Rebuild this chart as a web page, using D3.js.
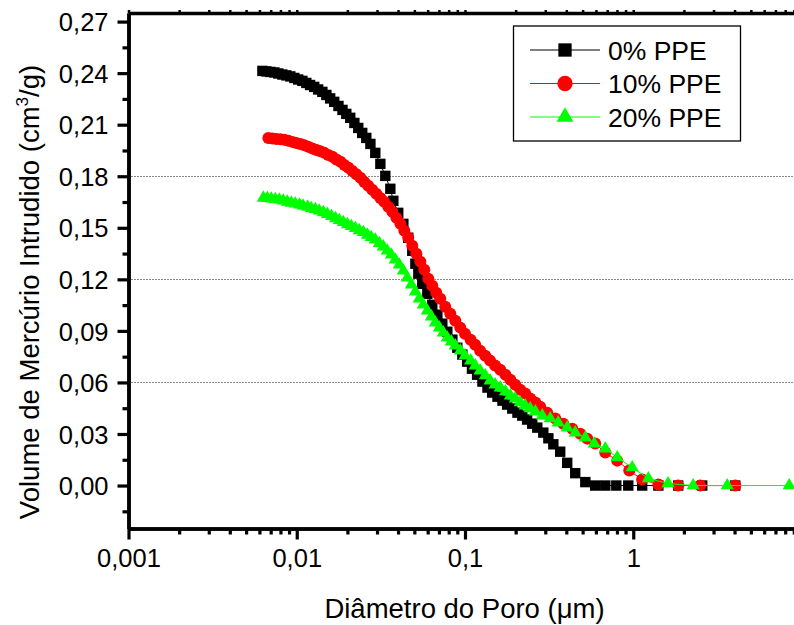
<!DOCTYPE html>
<html>
<head>
<meta charset="utf-8">
<script src="https://cdn.jsdelivr.net/npm/d3@7"></script>
<style>
    body { margin: 0; background: #fff; }
    svg { display: block; font-family: "Liberation Sans", Arial, sans-serif; }
</style>
</head>
<body>
<div id="chart"></div>
<script>
var seriesNames = ["0% PPE", "10% PPE", "20% PPE"];

// 0% PPE
var diam0 = [0.00625, 0.0066, 0.00697, 0.00736, 0.00777, 0.00821, 0.00867, 0.00916, 0.00968, 0.0102,
    0.0108, 0.0114, 0.0120, 0.0127, 0.0134, 0.0142, 0.0150, 0.0158, 0.0167, 0.0177,
    0.0187, 0.0197, 0.0208, 0.0220, 0.0232, 0.0245, 0.0259, 0.0274, 0.0293, 0.0314,
    0.0336, 0.0360, 0.0375, 0.0401, 0.0430, 0.0460, 0.0486, 0.0507, 0.0528, 0.0557,
    0.0597, 0.0639, 0.0685, 0.0733, 0.0785, 0.0841, 0.0900, 0.0964, 0.103, 0.110,
    0.118, 0.127, 0.136, 0.145, 0.156, 0.167, 0.178, 0.191, 0.205, 0.219,
    0.234, 0.251, 0.269, 0.292, 0.313, 0.335, 0.368, 0.405, 0.452, 0.519,
    0.594, 0.682, 0.793, 0.934, 1.13, 1.41, 1.85, 2.57, 4.04];
var vol0 = [0.2413, 0.2410, 0.2407, 0.2404, 0.2398, 0.2392, 0.2387, 0.2381, 0.2372, 0.2363,
    0.2355, 0.2343, 0.2331, 0.2320, 0.2305, 0.2291, 0.2273, 0.2253, 0.2233, 0.2209,
    0.2186, 0.2163, 0.2140, 0.2110, 0.2081, 0.2052, 0.2023, 0.1988, 0.1936, 0.1872,
    0.1802, 0.1727, 0.1657, 0.1587, 0.1523, 0.1442, 0.1366, 0.1291, 0.1233, 0.1174,
    0.1116, 0.1052, 0.0994, 0.0942, 0.0895, 0.0849, 0.0802, 0.0762, 0.0721, 0.0680,
    0.0645, 0.0605, 0.0570, 0.0541, 0.0517, 0.0494, 0.0471, 0.0448, 0.0424, 0.0407,
    0.0384, 0.0360, 0.0337, 0.0308, 0.0275, 0.0240, 0.0197, 0.0132, 0.0072, 0.0020,
    0, 0, 0, 0, 0, 0, 0, 0, 0];

// 10% PPE
var diam10 = [0.00678, 0.00716, 0.00756, 0.00799, 0.00844, 0.00891, 0.00942, 0.00994, 0.0105, 0.0111,
    0.0117, 0.0124, 0.0131, 0.0138, 0.0146, 0.0154, 0.0163, 0.0172, 0.0182, 0.0192,
    0.0203, 0.0214, 0.0226, 0.0239, 0.0252, 0.0266, 0.0281, 0.0297, 0.0314, 0.0331,
    0.0350, 0.0370, 0.0391, 0.0413, 0.0436, 0.0460, 0.0486, 0.0514, 0.0543, 0.0573,
    0.0605, 0.0639, 0.0675, 0.0713, 0.0763, 0.0818, 0.0876, 0.0938, 0.100, 0.108,
    0.115, 0.123, 0.132, 0.141, 0.151, 0.162, 0.174, 0.186, 0.199, 0.213,
    0.228, 0.244, 0.262, 0.280, 0.308, 0.344, 0.384, 0.434, 0.484, 0.533,
    0.594, 0.682, 0.803, 0.947, 1.13, 1.41, 1.85, 2.50, 4.04];
var vol10 = [0.2023, 0.2020, 0.2017, 0.2015, 0.2012, 0.2006, 0.2000, 0.1994, 0.1988, 0.1980,
    0.1971, 0.1962, 0.1953, 0.1945, 0.1936, 0.1924, 0.1913, 0.1898, 0.1884, 0.1866,
    0.1849, 0.1831, 0.1811, 0.1791, 0.1767, 0.1744, 0.1721, 0.1698, 0.1674, 0.1651,
    0.1622, 0.1593, 0.1558, 0.1523, 0.1483, 0.1442, 0.1395, 0.1349, 0.1302, 0.1256,
    0.1203, 0.1163, 0.1122, 0.1087, 0.1041, 0.1000, 0.0959, 0.0919, 0.0884, 0.0849,
    0.0820, 0.0785, 0.0756, 0.0727, 0.0698, 0.0674, 0.0645, 0.0616, 0.0587, 0.0558,
    0.0535, 0.0506, 0.0483, 0.0459, 0.0424, 0.0390, 0.0360, 0.0331, 0.0302, 0.0273,
    0.0244, 0.0192, 0.0145, 0.0087, 0.0035, 0.0006, 0, 0, 0];

// 20% PPE
var diam20 = [0.00633, 0.00669, 0.00706, 0.00746, 0.00788, 0.00832, 0.00879, 0.00929, 0.00981, 0.0104,
    0.0109, 0.0116, 0.0122, 0.0129, 0.0136, 0.0144, 0.0152, 0.0161, 0.0170, 0.0179,
    0.0189, 0.0200, 0.0211, 0.0223, 0.0235, 0.0249, 0.0263, 0.0277, 0.0293, 0.0310,
    0.0327, 0.0345, 0.0365, 0.0385, 0.0407, 0.0430, 0.0454, 0.0480, 0.0507, 0.0535,
    0.0565, 0.0597, 0.0631, 0.0666, 0.0704, 0.0743, 0.0785, 0.0829, 0.0876, 0.0938,
    0.100, 0.108, 0.115, 0.123, 0.132, 0.141, 0.151, 0.162, 0.174, 0.186,
    0.199, 0.213, 0.228, 0.244, 0.262, 0.288, 0.321, 0.358, 0.405, 0.452,
    0.519, 0.586, 0.682, 0.803, 0.986, 1.23, 1.61, 2.27, 3.62, 8.45];
var vol20 = [0.1674, 0.1672, 0.1669, 0.1666, 0.1663, 0.1657, 0.1651, 0.1645, 0.1640, 0.1634,
    0.1628, 0.1622, 0.1613, 0.1608, 0.1599, 0.1590, 0.1579, 0.1567, 0.1555, 0.1544,
    0.1532, 0.1520, 0.1509, 0.1497, 0.1485, 0.1474, 0.1459, 0.1445, 0.1430, 0.1410,
    0.1390, 0.1366, 0.1343, 0.1314, 0.1285, 0.1250, 0.1209, 0.1169, 0.1128, 0.1087,
    0.1052, 0.1017, 0.0983, 0.0948, 0.0919, 0.0890, 0.0860, 0.0837, 0.0814, 0.0785,
    0.0756, 0.0727, 0.0698, 0.0669, 0.0640, 0.0610, 0.0587, 0.0570, 0.0547, 0.0523,
    0.0506, 0.0483, 0.0465, 0.0448, 0.0430, 0.0407, 0.0390, 0.0366, 0.0337, 0.0308,
    0.0279, 0.0244, 0.0215, 0.0163, 0.0105, 0.0041, 0.0012, 0, 0, 0];

var xTickValues = [0.001, 0.01, 0.1, 1, 10];
var xTickLabels = ["0,001", "0,01", "0,1", "1", ""];
var yTickValues = [0, 0.03, 0.06, 0.09, 0.12, 0.15, 0.18, 0.21, 0.24, 0.27];
var gridValues = [0.06, 0.12, 0.18];

function init() {
    var margin = {top: 13, left: 128.5};
    var w = 673;
    var h = 515.5;

    var svg = d3.select("#chart")
        .append("svg")
        .attr("width", 794)
        .attr("height", 625);

    var g = svg.append("g")
        .attr("transform", "translate(" + margin.left + "," + margin.top + ")");

    var xScale = d3.scaleLog().domain([0.001, 10]).range([0, w]);
    var yScale = d3.scaleLinear().domain([-0.025, 0.275]).range([h, 0]);

    var locale = d3.formatLocale({decimal: ",", thousands: ".", grouping: [3], currency: ["", ""]});
    var yFormat = locale.format(".2f");

    // minor ticks
    var xMinor = [];
    [0.001, 0.01, 0.1, 1].forEach(function (d) {
        for (var k = 2; k <= 9; k++) xMinor.push(d * k);
    });
    var yMinor = [];
    for (var i = -1; i < yTickValues.length; i++) yMinor.push(0.015 + 0.03 * i);

    // dotted grid
    g.selectAll(".grid")
        .data(gridValues)
        .enter()
        .append("line")
        .attr("x1", 0)
        .attr("x2", w)
        .attr("y1", function (d) { return Math.round(yScale(d)) + 0.5; })
        .attr("y2", function (d) { return Math.round(yScale(d)) + 0.5; })
        .attr("stroke", "#111")
        .attr("stroke-width", 1)
        .attr("stroke-dasharray", "1,2");

    var series = [
        {name: seriesNames[0], x: diam0, y: vol0, color: "#000000", shape: "square"},
        {name: seriesNames[1], x: diam10, y: vol10, color: "#ff0000", shape: "circle"},
        {name: seriesNames[2], x: diam20, y: vol20, color: "#00ff00", shape: "triangle"}
    ];

    var line = d3.line()
        .x(function (d) { return xScale(d[0]); })
        .y(function (d) { return yScale(d[1]); });

    function drawMarker(sel, shape, color, s) {
        if (shape === "square") {
            sel.append("rect")
                .attr("x", -5.2 * s).attr("y", -5.2 * s)
                .attr("width", 10.4 * s).attr("height", 10.4 * s)
                .attr("fill", color);
        } else if (shape === "circle") {
            sel.append("circle")
                .attr("r", 6 * s)
                .attr("fill", color);
        } else {
            sel.append("path")
                .attr("d", "M0," + (-7.6 * s) + "L" + (6.6 * s) + "," + (3.8 * s) + "L" + (-6.6 * s) + "," + (3.8 * s) + "Z")
                .attr("fill", color);
        }
    }

    series.forEach(function (s) {
        var pts = s.x.map(function (d, i) { return [d, s.y[i]]; });

        g.append("path")
            .datum(pts)
            .attr("d", line)
            .attr("fill", "none")
            .attr("stroke", s.color)
            .attr("stroke-width", 1);

        g.append("g")
            .selectAll("g")
            .data(pts)
            .enter()
            .append("g")
            .attr("transform", function (d) {
                return "translate(" + xScale(d[0]) + "," + yScale(d[1]) + ")";
            })
            .each(function () { drawMarker(d3.select(this), s.shape, s.color, 1); });
    });

    // axes
    function styleAxis(a, fontSize) {
        a.select(".domain").attr("stroke", "#000").attr("stroke-width", 3.5);
        a.selectAll(".tick line").attr("stroke", "#000").attr("stroke-width", 3.2);
        a.selectAll(".tick text")
            .attr("fill", "#000")
            .style("font-family", "'Liberation Sans', Arial, sans-serif")
            .style("font-size", fontSize + "px");
    }

    var yAxis = g.append("g")
        .call(d3.axisLeft(yScale).tickValues(yTickValues).tickSize(11).tickSizeOuter(0)
            .tickPadding(9).tickFormat(yFormat));
    styleAxis(yAxis, 25.5);
    yAxis.selectAll(".tick text").attr("dy", "0.36em");

    var yMinorAxis = g.append("g")
        .call(d3.axisLeft(yScale).tickValues(yMinor).tickSize(6).tickSizeOuter(0).tickFormat(""));
    styleAxis(yMinorAxis, 10);

    var xAxis = g.append("g")
        .attr("transform", "translate(0," + h + ")")
        .call(d3.axisBottom(xScale).tickValues(xTickValues).tickSize(11).tickSizeOuter(0)
            .tickPadding(9).tickFormat(function (d, i) { return xTickLabels[i]; }));
    styleAxis(xAxis, 25.5);

    var xMinorAxis = g.append("g")
        .attr("transform", "translate(0," + h + ")")
        .call(d3.axisBottom(xScale).tickValues(xMinor).tickSize(6).tickSizeOuter(0).tickFormat(""));
    styleAxis(xMinorAxis, 10);

    var xTop = g.append("g")
        .call(d3.axisTop(xScale).tickValues(xTickValues.concat(xMinor)).tickSize(3).tickSizeOuter(0).tickFormat(""));
    styleAxis(xTop, 10);
    xTop.selectAll(".tick line").attr("stroke-width", 2.5);

    // axis titles
    svg.append("text")
        .attr("x", 464.5)
        .attr("y", 618)
        .attr("text-anchor", "middle")
        .style("font-size", "27.5px")
        .text("Diâmetro do Poro (μm)");

    var yTitle = svg.append("text")
        .attr("transform", "translate(39,292) rotate(-90)")
        .attr("text-anchor", "middle")
        .style("font-size", "27.5px");
    yTitle.append("tspan").text("Volume de Mercúrio Intrudido (cm");
    yTitle.append("tspan").attr("dy", -11).style("font-size", "17px").text("3");
    yTitle.append("tspan").attr("dy", 11).text("/g)");

    // legend
    var legend = svg.append("g");
    legend.append("rect")
        .attr("x", 513.5).attr("y", 26)
        .attr("width", 227).attr("height", 115)
        .attr("fill", "#fff")
        .attr("stroke", "#000")
        .attr("stroke-width", 1.3);

    var rowY = [50, 83.5, 117];
    series.forEach(function (s, i) {
        var row = legend.append("g").attr("transform", "translate(0," + rowY[i] + ")");
        row.append("line")
            .attr("x1", 530).attr("x2", 600)
            .attr("stroke", s.color)
            .attr("stroke-width", 1);
        var m = row.append("g").attr("transform", "translate(565,0)");
        drawMarker(m, s.shape, s.color, 1.28);
        row.append("text")
            .attr("x", 608)
            .attr("y", 9.5)
            .style("font-size", "26.5px")
            .text(s.name);
    });
}

window.onload = init;
</script>
</body>
</html>
